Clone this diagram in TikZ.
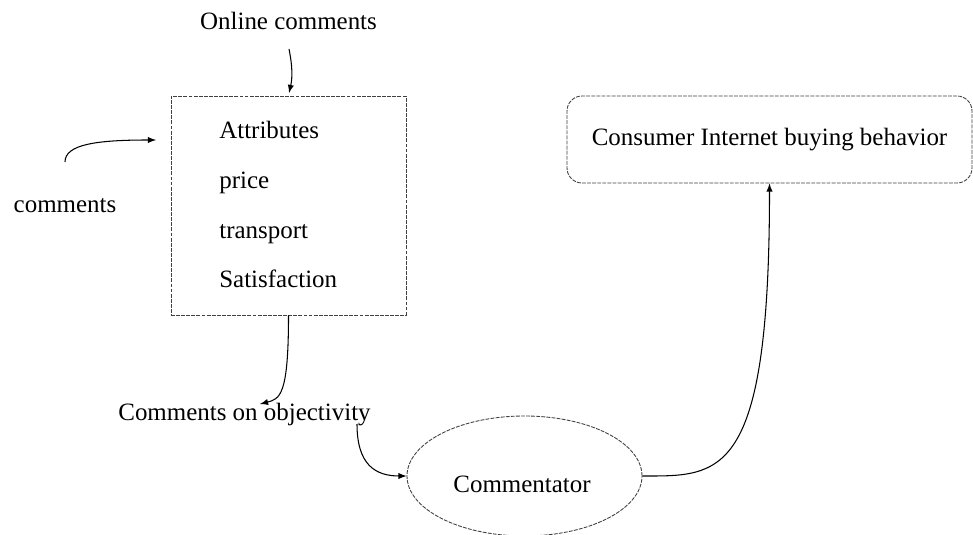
\documentclass[tikz,border=0pt]{standalone}
\usepackage{fontspec}
\setmainfont{Liberation Serif}
\usepackage{tikz}
\usetikzlibrary{shapes.geometric}
\tikzstyle{PlainText}=[inner sep=0pt, font=\fontsize{14.2}{17}\selectfont]
\tikzstyle{DashBorder}=[draw=black!75, line width=0.5pt, dash pattern=on 2.2pt off 0.7pt]
\tikzstyle{FactorBox}=[rectangle, DashBorder, minimum width=4.7cm, minimum height=4.38cm]
\tikzstyle{GoalBox}=[rectangle, DashBorder, rounded corners=0.3cm, minimum width=8.1cm, minimum height=1.74cm, font=\fontsize{14.2}{17}\selectfont]
\tikzstyle{AgentNode}=[ellipse, DashBorder, minimum width=4.7cm, minimum height=2.4cm]
\tikzstyle{FlowEdge}=[->, line width=0.6pt]
\tikzset{>=latex}

\begin{document}
\begin{tikzpicture}
\useasboundingbox (0,0) rectangle (19.46,10.68);
\node[PlainText, anchor=base](ONLINE) at (5.77,10.08) {Online comments};
\node[PlainText, anchor=base](COMM) at (1.3,6.42) {comments};
\node[FactorBox](FACTORS) at (5.77,6.57) {};
\node[PlainText, anchor=base west](ATTR) at (4.38,7.9) {Attributes};
\node[PlainText, anchor=base west](PRICE) at (4.38,6.9) {price};
\node[PlainText, anchor=base west](TRANS) at (4.38,5.91) {transport};
\node[PlainText, anchor=base west](SATIS) at (4.38,4.92) {Satisfaction};
\node[PlainText, anchor=base](OBJ) at (4.89,2.26) {Comments on objectivity};
\node[AgentNode](AGENT) at (10.49,1.16) {};
\node[PlainText, anchor=base](AGENTTXT) at (10.44,0.82) {Commentator};
\node[GoalBox](BUY) at (15.39,7.89) {Consumer Internet buying behavior};

\coordinate (ONLINEOUT) at (5.78,9.7);
\coordinate (COMMOUT) at (1.3,7.44);
\coordinate (COMMIN) at (3.12,7.88);
\coordinate (OBJIN) at (5.2,2.6);
\coordinate (OBJOUT) at (7.14,2.2);

\draw[FlowEdge, shorten >=1.5pt](ONLINEOUT) to[bend left=12] (FACTORS.north);
\draw[FlowEdge](COMMOUT) .. controls +(0,0.35) and +(-1.2,0) .. (COMMIN);
\draw[FlowEdge](FACTORS.south) .. controls +(0,-1.6) and +(0.4,0.1) .. (OBJIN);
\draw[FlowEdge](OBJOUT) .. controls +(0,-0.82) and +(-0.62,0) .. (AGENT.west);
\draw[FlowEdge](AGENT.east) .. controls +(1.56,0) and +(0,-5.94) .. (BUY.south);
\end{tikzpicture}
\end{document}
